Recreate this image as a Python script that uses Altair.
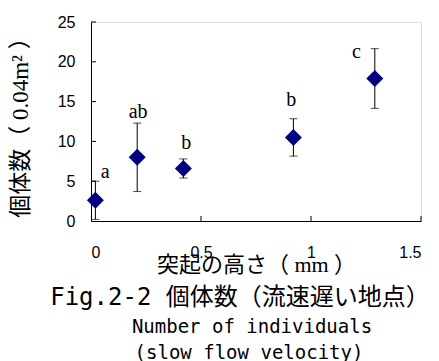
import altair as alt
import pandas as pd

# ---- data ----
height_mm = [0.02, 0.21, 0.42, 0.92, 1.29]
mean_count = [2.6, 8.0, 6.6, 10.5, 17.9]
err_count = [2.4, 4.3, 1.2, 2.35, 3.75]

group_labels = ["a", "ab", "b", "b", "c"]
label_x = [0.065, 0.214, 0.433, 0.910, 1.206]
label_y = [5.4, 13.0, 9.1, 14.4, 20.5]

x_ticks = [0, 0.5, 1, 1.5]
y_ticks = [0, 5, 10, 15, 20, 25]

x_title = "突起の高さ（ mm ）"
y_title = "個体数（ 0.04m² ）"
caption_lines = ["Fig.2-2 個体数（流速遅い地点）", "Number of individuals", "(slow flow velocity)"]

# ---- tables ----
pts = pd.DataFrame({"x": height_mm, "m": mean_count, "e": err_count})
pts["lo"] = pts["m"] - pts["e"]
pts["hi"] = pts["m"] + pts["e"]
labs = pd.DataFrame({"x": label_x, "m": label_y, "t": group_labels})
xt = pd.DataFrame({"x": [v for v in x_ticks if v > 0]})
yt = pd.DataFrame({"m": [v for v in y_ticks if v > 0]})

W, H = 330, 199
xscale = alt.Scale(domain=[0, 1.5], nice=False, zero=False)
yscale = alt.Scale(domain=[0, 25], nice=False, zero=False)

mixed_serif = "Liberation Serif, Noto Sans CJK JP"
mono = "DejaVu Sans Mono, Noto Sans CJK JP"

x_axis = alt.Axis(
    values=x_ticks, format=".1~f", ticks=False, grid=False,
    domainColor="black", domainWidth=1,
    labelFont="Liberation Sans", labelFontSize=16, labelColor="black", labelPadding=23,
    title=x_title, titleFont=mixed_serif, titleFontSize=22, titleFontWeight="normal",
    titleColor="black", titleY=43, titleBaseline="middle",
)
y_axis = alt.Axis(
    values=y_ticks, ticks=False, grid=False,
    domainColor="black", domainWidth=1,
    labelFont="Liberation Sans", labelFontSize=16, labelColor="black", labelPadding=16,
    title=y_title, titleFont=mixed_serif, titleFontSize=23, titleFontWeight="normal",
    titleColor="black", titleX=-71, titleBaseline="middle",
)

def X(f="x"):
    return alt.X(f"{f}:Q", scale=xscale, axis=x_axis)

def Y(f="m"):
    return alt.Y(f"{f}:Q", scale=yscale, axis=y_axis)

bars = alt.Chart(pts).mark_rule(color="black", strokeWidth=1).encode(
    x=X(), y=Y("lo"), y2="hi:Q"
)
cap_lo = alt.Chart(pts).mark_tick(color="black", orient="horizontal", size=8, thickness=1).encode(
    x=X(), y=Y("lo")
)
cap_hi = alt.Chart(pts).mark_tick(color="black", orient="horizontal", size=8, thickness=1).encode(
    x=X(), y=Y("hi")
)
diam = alt.Chart(pts).mark_point(
    shape="diamond", filled=True, color="#000080", opacity=1, size=289, strokeWidth=0
).encode(x=X(), y=Y())

letters = alt.Chart(labs).mark_text(
    font="Liberation Serif", fontSize=20, color="black", align="center", baseline="alphabetic"
).encode(x=X(), y=Y(), text="t:N")

xtick = alt.Chart(xt).mark_rule(color="black", strokeWidth=1).encode(
    x=X(), y=alt.value(H), y2=alt.value(H - 5)
)
ytick = alt.Chart(yt).mark_rule(color="black", strokeWidth=1).encode(
    y=Y(), x=alt.value(0), x2=alt.value(5)
)

cap_specs = [(caption_lines[0], 149, 283, 24), (caption_lines[1], 161, 311, 19), (caption_lines[2], 158, 337, 19)]
caps = []
for txt, cx, cy, fs in cap_specs:
    caps.append(
        alt.Chart(pd.DataFrame({"t": [txt]})).mark_text(
            font=mono, fontSize=fs, color="black", align="center", baseline="alphabetic"
        ).encode(text="t:N", x=alt.value(cx), y=alt.value(cy))
    )

chart = alt.layer(bars, cap_lo, cap_hi, xtick, ytick, diam, letters, *caps).properties(
    width=W, height=H,
    autosize=alt.AutoSizeParams(type="none"),
    padding={"left": 83, "top": 14, "right": 10, "bottom": 140},
).configure_view(stroke=None).configure(background="white")

chart.save("out.html", embed_options={"renderer": "svg", "actions": False})
